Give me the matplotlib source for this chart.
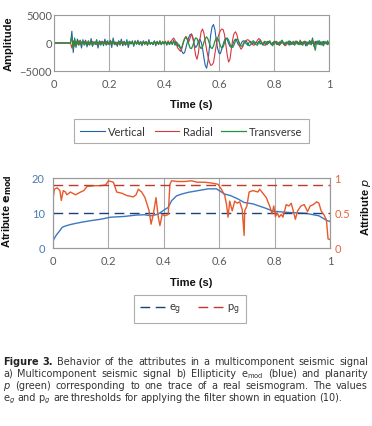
import numpy as np
import matplotlib
matplotlib.use("Agg")
import matplotlib.pyplot as plt

# ---------------------------------------------------------------------------
# Datos
# ---------------------------------------------------------------------------
# a) sismograma de tres componentes (muestreo cada 0.005 s, 0..1 s)
vertical = [
    0, 0, 0, 0, 0, 0, 0, 0, 0, 0, 0, 0, 0,
    2100, -1700, 900, -800, 700, -300, 400, -900, 600, -200, 500,
    -700, 300, -400, 800, -600, 200, -300, 600, -900, 400, -200, 300, -500, 700, -400, 100, -300,
    500, -800, 900, -300, 200, -600, 400, -200, 700, -500, 300, -400, 600, -800, 200, -100, 400, -600, 300, -200,
    500, -300, 200, -500, 400, -100, 300, -400, 600, -200, 100, -300, 400, -500, 200, -100, 300, -200, 100, -200,
    300, -400, 200, -100, 300, -300, 500, -200, 100, -600,
    -300, -900, -1500, -1900, -1700, -800, 200, 1000, 1500, 1600, 900, -200, -800, -500, 300, 700, 200, -900,
    -2600, -4000, -4500, -3200, -800, 1500, 2900, 3300, 2400, 600, -1000, -1800, -1900, -1100, -200, 500, 900,
    600, -100, -600, -800, -300, 400, 700, 300, -300, -500, -200, 300, 400, 100, -200,
    -400, 200, 300, -200, 100, -300, 200, -100, 300, -200, 100, -300, 200, -400, 300, -100, 200, -300, 100, -200,
    300, -100, -300, 200, -100, 400, -200, 100, -300, 200, -400, 300, -100, 200, -300, 400, -200, 100, -300, 200,
    -100, 300, -500, 200, -200, 400, -300, 900, -600, 300, -200, 400, -300, 200, -400, 300, -100, 200, -300, 100,
]
radial = [
    0, 0, 0, 0, 0, 0, 0, 0, 0, 0, 0, 0, 0,
    -900, 400, -500, 300, -200, 400, -300, 200, -100, 300, -200,
    200, -300, 100, -200, 300, -100, 200, -300, 100, -200, 300, -100, 200, -100, 300, -200, 100,
    -200, 300, -100, 200, -300, 100, -200, 300, -100, 200, -300, 100, -200, 100, 300, -200, 100, -300, 200, -100,
    200, -100, 300, -200, 100, -300, 200, -100, 300, -200, 100, -200, 300, -100, 200, -300, 100, -200, 300, -100,
    200, -300, 400, -200, 300, 600, 900, 500, -300, -900,
    -1200, -1500, -1000, 0, 800, 1200, 700, 200, 900, 1600, 1000, -600, -2200, -2900, -1800, 400, 2000, 2500,
    1800, 300, -1200, -2400, -3400, -4000, -3900, -3500, -2000, -400, 800, 1600, 2200, 2500, 2400, 1500, -300,
    -2200, -3400, -2900, -1000, 700, 1700, 2000, 1500, 400, -600, -1100, -800, -200, 300, 500,
    600, 400, 100, -200, -400, -300, 100, 500, 800, 600, 200, -200, -400, -300, 100, 300, 200, -100, -300, -200,
    100, 300, -200, -400, -100, 200, -200, -500, -300, 100, 200, -200, 100, -300, 200, -100, 300, -200, 100, -300,
    200, -100, 300, -200, 100, -200, 300, -100, 200, -300, 100, -200, 300, -100, 200, -300, 100, -200, 200, -100,
]
transverse = [
    0, 0, 0, 0, 0, 0, 0, 0, 0, 0, 0, 0, 0,
    1200, -1000, 600, -500, 300, -400, 500, -200, 300, -400, 200,
    -300, 400, -200, 300, -500, 200, -100, 400, -300, 200, -400, 300, -200, 100, -300, 400, -200,
    300, -200, 400, -300, 100, -200, 300, -400, 200, -100, 300, -300, 200, -400, 300, -100, 200, -300, 400, -200,
    100, -300, 200, -200, 300, -100, 200, -400, 300, -200, 100, -300, 200, -100, 300, -200, 400, -300, 200, -100,
    300, -200, 100, -300, 200, -100, 300, -400, 200, -100,
    -600, -1000, -700, 100, 800, 1000, 600, -200, -900, -1000, -400, 400, 900, 800, 200, -600, -1000, -700,
    100, 800, 1100, 700, -100, -800, -1000, -500, 300, 900, 900, 300, -500, -900, -700, 0, 700, 900, 500,
    -200, -700, -800, -300, 400, 700, 500, -100, -600, -500, 0, 400, 300,
    -200, -500, -300, 200, 400, 100, -300, -400, 200, 500, -100, -400, 300, 200, -300, 100, 400, -200, -500, 300,
    200, -300, 100, -400, 300, 500, -200, -300, 200, -100, 400, -300, -200, 300, -400, 200, 100, -300, 500, -200,
    -400, 300, 200, -500, 100, 400, -300, 600, -200, -1300, 300, -200, 400, -300, 200, -500, 300, -100, 400, -200,
]

# b) elipticidad e_mod (eje izq.) y planaridad p (eje der.)
e_time = [0, 0.008, 0.015, 0.025, 0.033, 0.045, 0.063, 0.08, 0.099, 0.135, 0.171, 0.208, 0.255,
          0.3, 0.33, 0.356, 0.38, 0.398, 0.416, 0.428, 0.446, 0.464, 0.488, 0.524, 0.56, 0.59,
          0.6, 0.62, 0.64, 0.668, 0.69, 0.722, 0.77, 0.794, 0.842, 0.913, 0.96, 0.99, 1.0]
e_mod = [2.0, 3.2, 4.0, 5.0, 5.9, 6.3, 6.7, 7.0, 7.3, 7.8, 8.2, 8.8, 9.0,
         9.4, 9.5, 9.2, 9.7, 10.7, 11.6, 13.5, 14.9, 15.4, 15.9, 16.4, 16.9, 16.9,
         16.4, 15.4, 15.0, 14.0, 13.0, 12.6, 11.3, 10.5, 10.2, 9.9, 9.2, 7.8, 7.6]

p_time = [0, 0.005, 0.015, 0.025, 0.03, 0.037, 0.045, 0.05, 0.063, 0.081, 0.1, 0.111, 0.123,
          0.15, 0.171, 0.19, 0.2, 0.218, 0.23, 0.25, 0.266, 0.29, 0.3, 0.308, 0.32, 0.332,
          0.347, 0.354, 0.362, 0.372, 0.38, 0.386, 0.394, 0.404, 0.416, 0.422, 0.428, 0.45,
          0.476, 0.5, 0.52, 0.548, 0.57, 0.596, 0.608, 0.62, 0.626, 0.632, 0.638, 0.647,
          0.656, 0.665, 0.674, 0.683, 0.69, 0.692, 0.7, 0.708, 0.722, 0.74, 0.746, 0.758,
          0.77, 0.782, 0.791, 0.797, 0.803, 0.81, 0.816, 0.824, 0.83, 0.842, 0.852, 0.86,
          0.868, 0.875, 0.883, 0.895, 0.907, 0.919, 0.928, 0.94, 0.952, 0.96, 0.968, 0.979,
          0.987, 0.993, 1.0]
p_vals = [0.70, 0.84, 0.86, 0.82, 0.68, 0.82, 0.80, 0.76, 0.80, 0.76, 0.80, 0.82, 0.88,
          0.89, 0.89, 0.90, 0.96, 0.94, 0.80, 0.78, 0.75, 0.73, 0.76, 0.84, 0.80, 0.72,
          0.53, 0.34, 0.48, 0.72, 0.44, 0.32, 0.48, 0.46, 0.48, 0.91, 0.96, 0.95,
          0.95, 0.96, 0.94, 0.94, 0.93, 0.91, 0.84, 0.75, 0.63, 0.44, 0.67, 0.53,
          0.67, 0.64, 0.66, 0.55, 0.18, 0.53, 0.60, 0.80, 0.82, 0.80, 0.84, 0.78,
          0.72, 0.60, 0.49, 0.60, 0.45, 0.50, 0.44, 0.48, 0.44, 0.62, 0.60, 0.64,
          0.52, 0.41, 0.53, 0.60, 0.62, 0.52, 0.60, 0.62, 0.66, 0.64, 0.53, 0.47,
          0.40, 0.13, 0.12]

e_g = 10      # umbral elipticidad (eje izq.)
p_g = 0.9     # umbral planaridad (eje der.)

caption = [
    ("Figure 3. Behavior of the attributes in a multicomponent seismic signal", True),
    ("a) Multicomponent seismic signal b) Ellipticity e$_{\\mathrm{mod}}$ (blue) and planarity", True),
    ("$p$ (green) corresponding to one trace of a real seismogram. The values", True),
    ("e$_g$ and p$_g$ are thresholds for applying the filter shown in equation (10).", False),
]

# ---------------------------------------------------------------------------
plt.rcParams["font.family"] = ["Lato", "DejaVu Sans"]
plt.rcParams["mathtext.fontset"] = "custom"
plt.rcParams["mathtext.rm"] = "DejaVu Sans"
plt.rcParams["mathtext.it"] = "DejaVu Sans:italic"
plt.rcParams["mathtext.bf"] = "DejaVu Sans:bold"

GRAY = "#5a5a5a"
SPINE = "#9a9a9a"
LBL = dict(family="Liberation Sans", weight="bold", fontsize=8, color="#111111")

fig = plt.figure(figsize=(3.72, 4.27), dpi=100)
W, H = 372, 427


def box(l, t, r, b):
    return [l / W, 1 - b / H, (r - l) / W, (b - t) / H]


def style(ax):
    for s in ax.spines.values():
        s.set_color(SPINE)
        s.set_linewidth(0.8)
    ax.set_xlim(0, 1)
    ax.set_xticks([0, 0.2, 0.4, 0.6, 0.8, 1])
    ax.set_xticklabels(["0", "0.2", "0.4", "0.6", "0.8", "1"])
    ax.tick_params(length=0, labelsize=8, colors=GRAY)
    ax.tick_params(axis="x", pad=5)
    ax.grid(True, axis="x", color="#aaaaaa", linewidth=0.8)
    ax.set_axisbelow(True)


# --- a) sismograma ---
ax1 = fig.add_axes(box(54, 16, 329, 72))
style(ax1)
ax1.plot(np.linspace(0, 1, len(vertical)), vertical, color="#1f64a8", lw=0.8, label="Vertical")
ax1.plot(np.linspace(0, 1, len(radial)), radial, color="#d9363e", lw=0.8, label="Radial")
ax1.plot(np.linspace(0, 1, len(transverse)), transverse, color="#23913c", lw=0.9, label="Transverse")
ax1.set_ylim(-5000, 5000)
ax1.set_yticks([-5000, 0, 5000])
ax1.tick_params(axis="y", pad=1.5)
ax1.set_xlabel("Time (s)", **LBL)
ax1.xaxis.set_label_coords(0.5, -0.5)
ax1.set_ylabel("Amplitude", **LBL)
ax1.yaxis.set_label_coords(-0.145, 0.5)

leg1 = fig.legend(*ax1.get_legend_handles_labels(), loc="center", ncol=3,
                  bbox_to_anchor=(191.5 / W, 1 - 132 / H), fontsize=8,
                  frameon=True, fancybox=False, edgecolor="#999999",
                  handlelength=2.2, handletextpad=0.3, columnspacing=0.8,
                  borderpad=0.6, labelcolor="#333333")
leg1.get_frame().set_linewidth(0.8)

# --- b) atributos ---
ax2 = fig.add_axes(box(53, 179, 330, 249))
style(ax2)
ax2.plot(e_time, e_mod, color="#3b78c0", lw=1.0)
ax2.set_ylim(0, 20)
ax2.set_yticks([0, 10, 20])
ax2.tick_params(axis="y", colors="#4a7ab5", pad=6)
ax2.tick_params(axis="x", colors=GRAY)
l_eg = ax2.axhline(e_g, color="#1f3f7a", lw=1.0, dashes=(7, 4))
ax2.set_xlabel("Time (s)", **LBL)
ax2.xaxis.set_label_coords(0.5, -0.42)
ax2.set_ylabel("Atribute $\\mathbf{e}_{\\mathbf{mod}}$", **LBL)
ax2.yaxis.set_label_coords(-0.14, 0.54)

ax3 = ax2.twinx()
ax3.set_ylim(0, 1)
ax3.set_yticks([0, 0.5, 1])
ax3.set_yticklabels(["0", "0.5", "1"])
ax3.tick_params(length=0, labelsize=8, colors="#e8643c", pad=3)
for s in ax3.spines.values():
    s.set_color(SPINE)
    s.set_linewidth(0.8)
ax3.plot(p_time, p_vals, color="#e8592a", lw=1.0)
l_pg = ax3.axhline(p_g, color="#c0392b", lw=1.0, dashes=(7, 4))
ax3.set_ylabel("Attribute $\\mathit{p}$", **LBL)
ax3.yaxis.set_label_coords(1.105, 0.6)

leg2 = fig.legend([l_eg, l_pg], ["e$_\\mathrm{g}$", "p$_\\mathrm{g}$"], loc="center", ncol=2,
                  bbox_to_anchor=(190 / W, 1 - 310 / H), fontsize=8,
                  frameon=True, fancybox=False, edgecolor="#999999",
                  handlelength=2.2, handletextpad=0.4, columnspacing=1.5,
                  borderpad=0.6, labelcolor="#333333")
leg2.get_frame().set_linewidth(0.8)

# --- pie de figura (justificado a mano) ---
fig.canvas.draw()
renderer = fig.canvas.get_renderer()
x0, x1 = 3, 368
base = [365, 377, 389, 401]
cap_font = ["DejaVu Sans"]


def caption_line(line, yb, fs):
    words = line.split(" ")
    items = []
    for i, w in enumerate(words):
        bold = line.startswith("Figure") and i < 2
        items.append(fig.text(0, 1 - yb / H, w, fontsize=fs, va="baseline", ha="left",
                              family=cap_font,
                              color="#222222" if bold else "#333333",
                              weight="bold" if bold else "normal"))
    widths = [it.get_window_extent(renderer).width for it in items]
    return items, widths


# tamano de letra: que la linea mas larga quepa con un espacio minimo
fs = 7.0
for line, justify in caption[:3]:
    items, widths = caption_line(line, 0, fs)
    need = sum(widths) + 2.2 * (len(items) - 1)
    for it in items:
        it.remove()
    if need > x1 - x0:
        fs = fs * (x1 - x0) / need

for (line, justify), yb in zip(caption, base):
    items, widths = caption_line(line, yb, fs)
    gap = (x1 - x0 - sum(widths)) / (len(items) - 1) if justify else 2.4
    x = x0
    for it, wd in zip(items, widths):
        it.set_x(x / W)
        x += wd + gap

fig.savefig("out.png", dpi=100)
